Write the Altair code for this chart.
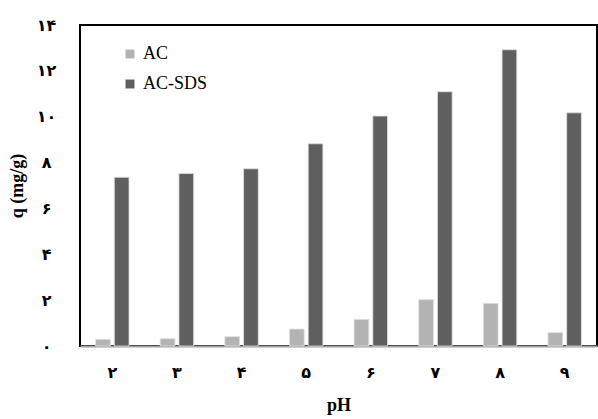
import altair as alt
import pandas as pd

# pH values (Persian digits) and adsorption capacity q (mg/g)
ph_labels = ["۲", "۳", "۴", "۵", "۶", "۷", "۸", "۹"]
q_ac = [0.29, 0.32, 0.41, 0.74, 1.16, 2.02, 1.86, 0.58]
q_ac_sds = [7.36, 7.52, 7.73, 8.82, 10.03, 11.09, 12.92, 10.17]
series_names = ["AC", "AC-SDS"]
series_colors = ["#b3b3b3", "#5f5f5f"]
y_tick_values = [0, 2, 4, 6, 8, 10, 12, 14]
y_tick_labels = ["۰", "۲", "۴", "۶", "۸", "۱۰", "۱۲", "۱۴"]

rows = []
for ph, a, b in zip(ph_labels, q_ac, q_ac_sds):
    rows.append({"pH": ph, "series": series_names[0], "q": a})
    rows.append({"pH": ph, "series": series_names[1], "q": b})
df = pd.DataFrame(rows)

label_js = "[" + ",".join("'" + s + "'" for s in y_tick_labels) + "]"
SERIF = "Liberation Serif, DejaVu Serif, DejaVu Sans"

chart = (
    alt.Chart(df)
    .mark_bar(width=14.7, stroke="#e0e0e0", strokeWidth=0.8)
    .encode(
        x=alt.X(
            "pH:N",
            sort=ph_labels,
            scale=alt.Scale(paddingInner=0, paddingOuter=0),
            axis=alt.Axis(
                title="pH",
                titleFont=SERIF,
                titleFontSize=18,
                titleFontWeight="bold",
                titleColor="black",
                titlePadding=16,
                labelFont=SERIF,
                labelFontSize=16,
                labelFontWeight="bold",
                labelColor="black",
                labelAngle=0,
                labelPadding=18,
                ticks=False,
                domainColor="#a0a0a0",
                domainWidth=2,
            ),
        ),
        xOffset=alt.XOffset(
            "series:N",
            sort=series_names,
            scale=alt.Scale(paddingInner=0.214, paddingOuter=0.834),
        ),
        y=alt.Y(
            "q:Q",
            scale=alt.Scale(domain=[0, 14], nice=False),
            axis=alt.Axis(
                title="q (mg/g)",
                titleFont=SERIF,
                titleFontSize=18,
                titleFontWeight="bold",
                titleColor="black",
                titlePadding=10,
                values=y_tick_values,
                labelExpr=label_js + "[datum.value / 2]",
                labelFont=SERIF,
                labelFontSize=16,
                labelFontWeight="bold",
                labelColor="black",
                labelAlign="center",
                labelPadding=34,
                ticks=False,
                grid=False,
                domain=False,
            ),
        ),
        color=alt.Color(
            "series:N",
            sort=series_names,
            scale=alt.Scale(domain=series_names, range=series_colors),
            legend=alt.Legend(
                title=None,
                orient="none",
                legendX=41,
                legendY=20,
                symbolType="square",
                symbolSize=80,
                symbolStrokeWidth=0,
                labelFont=SERIF,
                labelFontSize=18,
                labelColor="black",
                labelOffset=4,
                rowPadding=12,
            ),
        ),
    )
    .properties(
        width=517,
        height=321,
        autosize=alt.AutoSizeParams(type="none"),
        padding={"left": 80, "top": 25, "right": 1, "bottom": 73},
    )
    .configure_view(stroke="black", strokeWidth=2)
)

chart.save("out.html", embed_options={"renderer": "svg", "actions": False})
